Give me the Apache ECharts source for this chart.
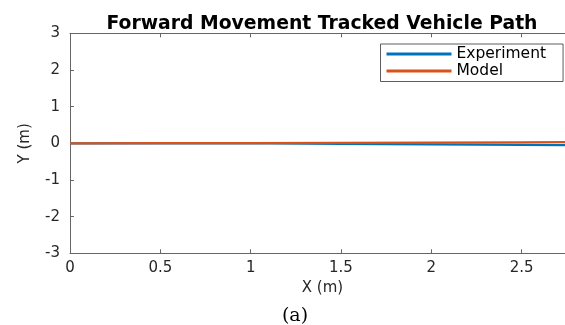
<!DOCTYPE html>
<html><head><meta charset="utf-8">
<script src="https://cdn.jsdelivr.net/npm/echarts@6/dist/echarts.min.js"></script>
<style>html,body{margin:0;padding:0;background:#fff}#c{width:565px;height:325px}</style>
</head><body><div id="c"></div>
<script>
const expX = [0, 0.5, 1.0, 1.1, 1.5, 2.0, 2.5, 2.74];
const expY = [0, 0, -0.003, -0.006, -0.015, -0.028, -0.042, -0.05];
const modX = [0, 0.5, 1.0, 1.5, 2.0, 2.5, 2.74];
const modY = [0, 0.003, 0.007, 0.012, 0.018, 0.025, 0.03];
const xTicks = [0, 0.5, 1, 1.5, 2, 2.5];
const yTicks = [-3, -2, -1, 0, 1, 2, 3];
const xMax = 2.74;

const chart = echarts.init(document.getElementById('c'));
const axCol = '#262626';
const lineCol = '#666666';
const font = 'DejaVu Sans, Verdana, sans-serif';
chart.setOption({
  animation: false,
  title: [{
    text: 'Forward Movement Tracked Vehicle Path', left: 317, top: 10, textAlign: 'center',
    textStyle: {fontFamily: font, fontSize: 18.8, fontWeight: 'bold', color: '#000'}
  }, {
    text: '(a)', left: 290, top: 302, textAlign: 'center',
    textStyle: {fontFamily: 'DejaVu Serif, Liberation Serif, serif', fontSize: 19, fontWeight: 'normal', color: '#000'}
  }],
  legend: {
    orient: 'vertical', left: 380.5, top: 44,
    backgroundColor: '#fff', borderColor: '#333', borderWidth: 0.8, padding: [2, 17, 2.5, 6],
    itemWidth: 65, itemHeight: 3, itemGap: 1,
    icon: 'rect',
    textStyle: {fontFamily: font, fontSize: 15.5, lineHeight: 16, color: '#000', padding: [0, 0, 0, 0]},
    data: ['Experiment', 'Model']
  },
  grid: {left: 70, right: 0, top: 33.3, bottom: 71.7, containLabel: false},
  xAxis: [{
    type: 'value', min: 0, max: xMax, interval: 0.5,
    name: 'X (m)', nameLocation: 'middle', nameGap: 27,
    nameTextStyle: {fontFamily: font, fontSize: 15, color: axCol, padding: [0, 0, 0, 10]},
    axisLine: {show: true, onZero: false, lineStyle: {color: lineCol, width: 1}},
    axisTick: {show: true, inside: true, length: 4, lineStyle: {color: lineCol}},
    axisLabel: {fontFamily: font, fontSize: 15, color: axCol, margin: 7, showMaxLabel: false,
      formatter: v => xTicks.indexOf(v) >= 0 ? String(v) : ''},
    splitLine: {show: false}
  }, {
    type: 'value', min: 0, max: xMax, interval: 0.5, position: 'top',
    axisLine: {show: true, onZero: false, lineStyle: {color: lineCol, width: 1}},
    axisTick: {show: true, inside: true, length: 4, lineStyle: {color: lineCol}},
    axisLabel: {show: false}, splitLine: {show: false}
  }],
  yAxis: {
    type: 'value', min: -3, max: 3, interval: 1,
    name: 'Y (m)', nameLocation: 'middle', nameGap: 37, nameRotate: 90,
    nameTextStyle: {fontFamily: font, fontSize: 15, color: axCol},
    axisLine: {show: true, onZero: false, lineStyle: {color: lineCol, width: 1}},
    axisTick: {show: true, inside: true, length: 4, lineStyle: {color: lineCol}},
    axisLabel: {fontFamily: font, fontSize: 15, color: axCol, margin: 10,
      formatter: v => yTicks.indexOf(v) >= 0 ? String(v) : ''},
    splitLine: {show: false}
  },
  series: [{
    name: 'Experiment', type: 'line', showSymbol: false, symbol: 'none',
    color: '#0072BD', lineStyle: {width: 2.2, color: '#0072BD'},
    data: expX.map((x, i) => [x, expY[i]])
  }, {
    name: 'Model', type: 'line', showSymbol: false, symbol: 'none',
    color: '#D95319', lineStyle: {width: 2.2, color: '#D95319'},
    data: modX.map((x, i) => [x, modY[i]])
  }]
});
</script></body></html>
